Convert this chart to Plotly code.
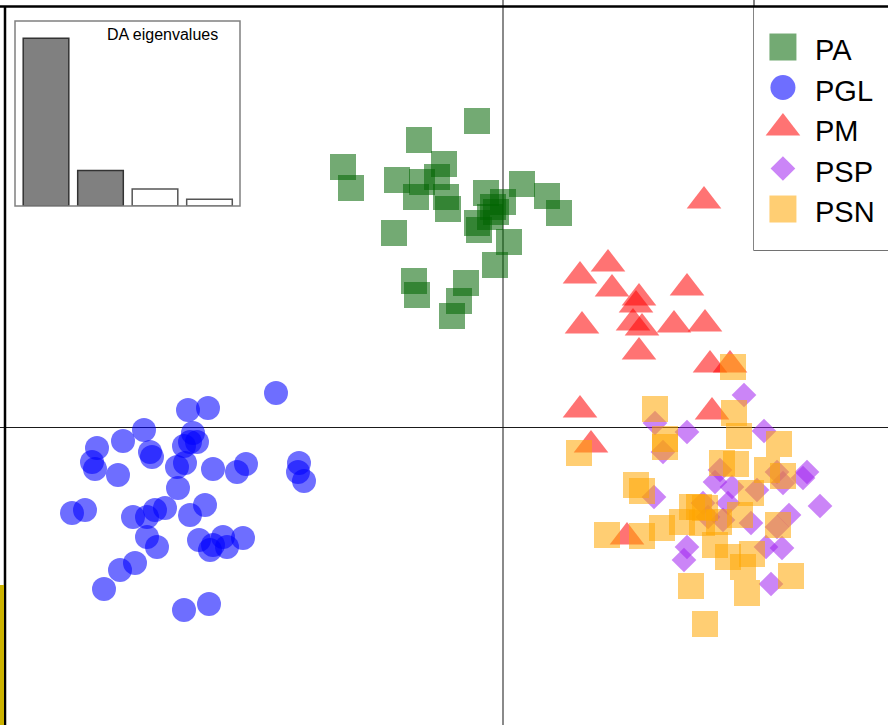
import plotly.graph_objects as go

# Discriminant analysis scores (LD1, LD2) per group
pa_x = [-2.6, -8.4, -16.0, -15.2, -5.9, -10.6, -8.1, -6.6, -8.7, -5.7, -5.5, -1.7, 1.9, 4.4, 5.6,
        0.0, -0.7, -2.6, -2.4, -10.9, 0.6, -0.8, -8.9, -8.6, -3.7, -4.4, -5.1, -1.0, -1.3]
pa_y = [30.6, 28.7, 26.0, 23.9, 26.3, 24.7, 24.5, 25.0, 23.0, 23.0, 21.8, 23.4, 24.3, 23.1, 21.4,
        22.5, 21.5, 20.4, 19.7, 19.4, 18.5, 16.2, 14.6, 13.2, 14.4, 12.6, 11.1, 22.0, 21.0]

pgl_x = [-22.7, -31.5, -29.5, -35.9, -38.0, -40.6, -41.1, -40.8, -38.5, -35.3, -35.1, -31.0, -31.3,
         -31.9, -30.6, -32.6, -31.8, -29.0, -26.6, -25.7, -20.4, -20.5, -19.9, -32.5, -43.1, -41.8,
         -37.0, -35.6, -34.8, -33.8, -31.3, -29.8, -35.6, -34.6, -30.4, -29.3, -28.0, -27.6, -26.0,
         -29.0, -36.8, -38.3, -39.9, -31.9, -29.4]
pgl_y = [3.4, 1.7, 1.9, -0.3, -1.4, -2.1, -3.5, -4.2, -4.8, -2.5, -3.0, -0.6, -1.5,
         -1.9, -1.5, -4.0, -3.6, -4.2, -4.5, -3.7, -3.6, -4.5, -5.4, -6.1, -8.6, -8.3,
         -9.0, -9.0, -8.3, -8.1, -8.8, -7.8, -11.0, -12.0, -11.3, -12.3, -11.0, -12.0, -11.1,
         -11.8, -13.6, -14.3, -16.2, -18.3, -17.7]

pm_x = [20.1, 7.7, 10.5, 10.9, 13.6, 13.3, 13.0, 13.9, 13.6, 18.4, 7.9, 17.1, 20.2, 20.7, 22.7,
        7.7, 20.9, 8.8, 12.4]
pm_y = [22.6, 15.1, 16.3, 13.8, 12.9, 12.2, 10.4, 9.9, 7.5, 13.9, 10.1, 10.2, 10.3, 6.2, 6.2,
        1.7, 1.5, -1.8, -11.0]

psp_x = [24.1, 15.2, 18.4, 26.1, 16.0, 30.4, 30.0, 31.7, 27.4, 28.0, 21.2, 21.7, 22.9, 25.4,
         15.1, 20.0, 22.5, 20.5, 22.0, 24.8, 28.6, 27.4, 18.4, 18.1, 26.3, 27.9, 26.8]
psp_y = [3.2, 0.4, -0.5, -0.4, -2.5, -4.5, -5.1, -7.9, -4.5, -5.6, -5.5, -4.3, -6.0, -6.3,
         -7.0, -7.6, -7.6, -9.0, -9.3, -9.6, -8.8, -10.0, -12.0, -13.3, -12.0, -12.1, -15.7]

psn_x = [23.0, 15.2, 23.1, 23.6, 27.6, 16.2, 16.2, 7.6, 21.9, 23.3, 26.4, 28.0, 13.3, 13.9,
         24.8, 19.6, 20.2, 23.7, 17.9, 15.9, 10.4, 13.9, 19.9, 21.6, 27.5, 21.2, 22.5, 24.9,
         24.0, 24.4, 28.8, 18.8, 20.2, 18.9]
psn_y = [6.0, 1.8, 1.4, -0.9, -1.7, -1.2, -2.0, -2.6, -3.6, -3.7, -4.3, -4.9, -5.8, -6.4,
         -6.6, -8.0, -8.1, -8.8, -9.5, -10.1, -10.8, -10.9, -9.6, -9.5, -9.8, -11.8, -13.0, -12.7,
         -14.0, -16.6, -14.9, -15.9, -19.7, -8.0]

groups = ["PA", "PGL", "PM", "PSP", "PSN"]
group_colors = ["rgba(0,100,0,0.55)", "rgba(0,0,255,0.57)", "rgba(255,0,0,0.55)",
                "rgba(160,32,240,0.55)", "rgba(255,165,0,0.55)"]
group_symbols = ["square", "circle", "triangle-up", "diamond", "square"]
group_sizes = [26, 24, 30, 19, 26]

# Eigenvalues of the discriminant functions (inset)
eig_values = [100.0, 21.1, 10.1, 4.0]
eig_fill = ["#808080", "#808080", "#ffffff", "#ffffff"]
eig_edge = ["#333333", "#333333", "#555555", "#555555"]

W, H = 888, 725
FONT = "Liberation Sans, Arial, sans-serif"

fig = go.Figure()

series = [(pa_x, pa_y), (pgl_x, pgl_y), (pm_x, pm_y), (psp_x, psp_y), (psn_x, psn_y)]
for name, (xs, ys), col, sym, sz in zip(groups, series, group_colors, group_symbols, group_sizes):
    fig.add_trace(go.Scatter(
        x=xs, y=ys, mode="markers", name=name,
        marker=dict(symbol=sym, size=sz, color=col, opacity=1, line=dict(width=0)),
        hoverinfo="skip", xaxis="x", yaxis="y",
    ))

# Eigenvalue bar inset
fig.add_trace(go.Bar(
    x=list(range(len(eig_values))), y=eig_values, width=0.837,
    marker=dict(color=eig_fill, line=dict(color=eig_edge, width=1.5)),
    xaxis="x2", yaxis="y2", hoverinfo="skip",
))

# Legend symbols drawn at full marker size
fig.add_trace(go.Scatter(
    x=[0.216] * len(groups), y=list(range(len(groups))), mode="markers",
    marker=dict(symbol=group_symbols, size=[27, 25, 30, 19, 27], color=group_colors,
                opacity=1, line=dict(width=0)),
    xaxis="x3", yaxis="y3", hoverinfo="skip",
))

hidden = dict(showgrid=False, zeroline=False, showticklabels=False, showline=False,
              ticks="", fixedrange=True)

fig.update_layout(
    width=W, height=H,
    margin=dict(l=0, r=0, t=0, b=0, pad=0),
    paper_bgcolor="white", plot_bgcolor="white",
    showlegend=False,
    xaxis=dict(range=[-50.3, 38.5], showgrid=False, showticklabels=False, ticks="",
               zeroline=True, zerolinecolor="#8a8a8a", zerolinewidth=2, showline=False,
               fixedrange=True),
    yaxis=dict(range=[-29.8, 42.7], showgrid=False, showticklabels=False, ticks="",
               zeroline=True, zerolinecolor="#1a1a1a", zerolinewidth=1, showline=False,
               fixedrange=True),
    xaxis2=dict(domain=[15 / W, 240 / W], range=[-0.569, 3.56], anchor="y2", **hidden),
    yaxis2=dict(domain=[1 - 206 / H, 1 - 21 / H], range=[0, 110.3], anchor="x2", **hidden),
    xaxis3=dict(domain=[754 / W, 1], range=[0, 1], anchor="y3", **hidden),
    yaxis3=dict(domain=[1 - 250 / H, 1 - 7 / H], range=[5.012, -0.988], anchor="x3", **hidden),
)

# Frame of the main panel (top and left edges)
fig.add_shape(type="line", xref="paper", yref="paper", x0=0, x1=1,
              y0=1 - 6.5 / H, y1=1 - 6.5 / H, line=dict(color="black", width=2.5))
fig.add_shape(type="line", xref="paper", yref="paper", x0=5 / W, x1=5 / W,
              y0=0, y1=1 - 6.5 / H, line=dict(color="black", width=2.5))
# Strip along the lower left edge
fig.add_shape(type="rect", xref="paper", yref="paper", x0=0, x1=4 / W,
              y0=0, y1=1 - 585 / H, line=dict(width=0), fillcolor="#ccb300")

# Inset frame
fig.add_shape(type="rect", xref="x2 domain", yref="y2 domain", x0=0, x1=1, y0=0, y1=1,
              line=dict(color="#808080", width=1.5))
fig.add_annotation(text="DA eigenvalues", xref="paper", yref="paper",
                   x=162 / W, y=1 - 35 / H, showarrow=False, xanchor="center", yanchor="middle",
                   font=dict(family=FONT, size=16, color="black"))

# Legend frame and labels
fig.add_shape(type="rect", xref="paper", yref="paper", x0=754 / W, x1=1.02,
              y0=1 - 250 / H, y1=1.02, line=dict(color="#444444", width=1.3), layer="below")
for i, name in enumerate(groups):
    fig.add_annotation(text=name, xref="x3", yref="y3", x=0.44, y=i, yshift=-3,
                       showarrow=False, xanchor="left", yanchor="middle",
                       font=dict(family=FONT, size=29, color="black"))

fig.write_html("out.html")
